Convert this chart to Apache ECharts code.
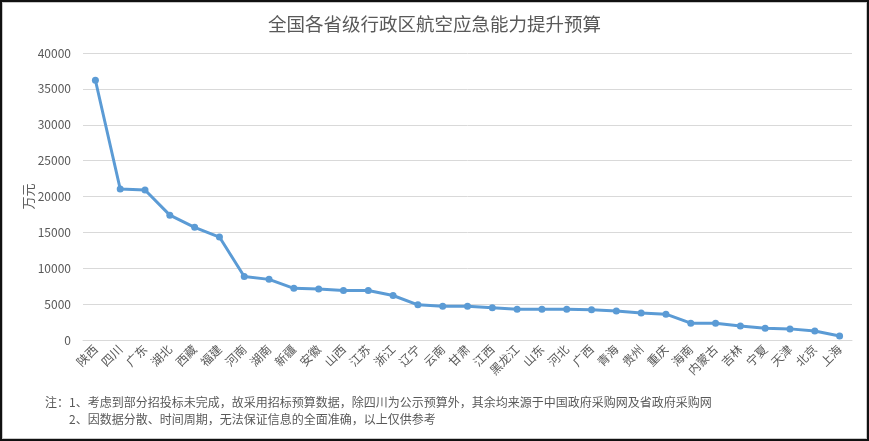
<!DOCTYPE html>
<html>
<head>
<meta charset="utf-8">
<script src="https://cdn.jsdelivr.net/npm/echarts@6/dist/echarts.min.js"></script>
<style>
html,body{margin:0;padding:0;background:#fff;}
#chart{position:absolute;left:0;top:0;width:869px;height:441px;}
#frame{position:absolute;left:0;top:0;width:869px;height:441px;box-sizing:border-box;border:2px solid #111;pointer-events:none;}
#frame2{position:absolute;left:2px;top:2px;width:865px;height:437px;box-sizing:border-box;border:1px solid #c8c8c8;pointer-events:none;}
</style>
</head>
<body>
<div id="chart"></div><div id="frame"></div><div id="frame2"></div>
<script>
const titleText = '全国各省级行政区航空应急能力提升预算';
const provinces = ['陕西','四川','广东','湖北','西藏','福建','河南','湖南','新疆','安徽','山西','江苏','浙江','辽宁','云南','甘肃','江西','黑龙江','山东','河北','广西','青海','贵州','重庆','海南','内蒙古','吉林','宁夏','天津','北京','上海'];
const budget = [36200,21050,20900,17400,15700,14350,8850,8450,7200,7100,6900,6900,6200,4900,4700,4700,4500,4300,4300,4300,4200,4050,3750,3600,2350,2350,1950,1650,1550,1250,550];
const yName = '万元';
const notes = [
  '注：1、考虑到部分招投标未完成，故采用招标预算数据，除四川为公示预算外，其余均来源于中国政府采购网及省政府采购网',
  '2、因数据分散、时间周期，无法保证信息的全面准确，以上仅供参考'
];
const font = '"Noto Sans CJK SC", "Noto Sans", sans-serif';
const chart = echarts.init(document.getElementById('chart'));
chart.setOption({
  animation: false,
  textStyle: {fontFamily: font},
  title: {text: titleText, left: 'center', top: 10, textStyle: {fontSize: 18.5, fontWeight: 'normal', color: '#595959', fontFamily: font}},
  grid: {left: 83, right: 17, top: 53, bottom: 101, containLabel: false},
  xAxis: {
    type: 'category', data: provinces, boundaryGap: true,
    axisLine: {lineStyle: {color: '#d9d9d9'}},
    axisTick: {show: false},
    axisLabel: {rotate: 45, interval: 0, fontSize: 12, color: '#595959', margin: 7, fontFamily: font}
  },
  yAxis: {
    type: 'value', min: 0, max: 40000, interval: 5000,
    name: yName, nameLocation: 'middle', nameGap: 48, nameRotate: 90, nameMoveOverlap: false,
    nameTextStyle: {fontSize: 13, color: '#595959', fontFamily: font},
    axisLine: {show: false}, axisTick: {show: false},
    axisLabel: {fontSize: 12, color: '#595959', margin: 12, fontFamily: font, formatter: function (v) { return String(v); }},
    splitLine: {lineStyle: {color: '#d9d9d9', width: 1}}
  },
  series: [{
    type: 'line', data: budget, symbol: 'circle', symbolSize: 7,
    lineStyle: {color: '#5B9BD5', width: 3},
    itemStyle: {color: '#5B9BD5'}
  }],
  graphic: [
    {type: 'text', left: 45, top: 396, style: {text: notes[0], fontSize: 12, fill: '#595959', fontFamily: font}},
    {type: 'text', left: 69, top: 413, style: {text: notes[1], fontSize: 12, fill: '#595959', fontFamily: font}}
  ]
});
</script>
</body>
</html>
